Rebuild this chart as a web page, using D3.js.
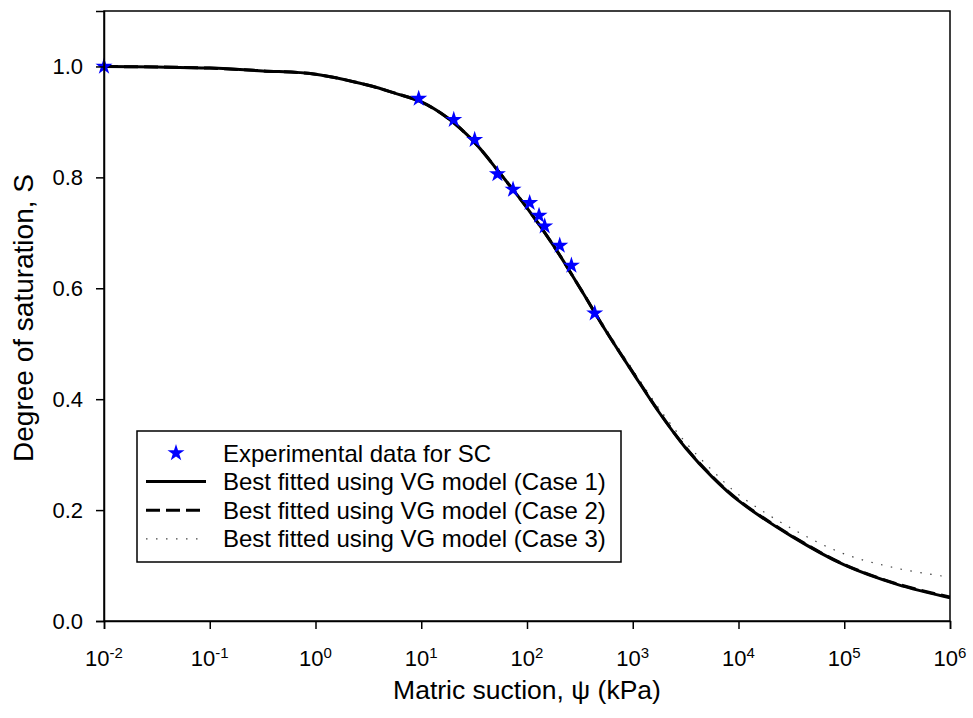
<!DOCTYPE html>
<html>
<head>
<meta charset="utf-8">
<script src="https://cdn.jsdelivr.net/npm/d3@7"></script>
<style>
	body { margin: 0; background: #fff; }
	text { font-family: Arial, "Liberation Sans", sans-serif; fill: #000; }
</style>
</head>
<body>
<div id="chart"></div>
<script>
////////////////////////////////////////////////////////////
//////////////////////// Data //////////////////////////////
////////////////////////////////////////////////////////////

// experimental points (suction in kPa, degree of saturation)
var expSuction = [0.01, 9.46, 20.3, 32.0, 52.5, 73.8, 106, 130, 147, 204, 263, 437];
var expS       = [1.0, 0.942, 0.904, 0.868, 0.806, 0.778, 0.754, 0.731, 0.712, 0.677, 0.641, 0.555];

var fitSuction = [0.01, 0.0316, 0.1, 0.316, 1, 3.16, 5.62, 10, 17.8, 31.6, 56.2, 100, 178, 316, 562,
	1000, 1778, 3162, 5623, 10000, 31623, 100000, 316228, 1000000];
var case1S = [1.0, 0.999, 0.997, 0.992, 0.986, 0.966, 0.952, 0.936, 0.907, 0.864, 0.806, 0.745, 0.677, 0.601, 0.522,
	0.448, 0.376, 0.312, 0.260, 0.217, 0.153, 0.101, 0.066, 0.042];
var case2S = [1.0, 0.999, 0.997, 0.992, 0.986, 0.966, 0.952, 0.936, 0.907, 0.864, 0.806, 0.745, 0.677, 0.601, 0.522,
	0.449, 0.377, 0.313, 0.261, 0.218, 0.154, 0.102, 0.067, 0.043];
var case3S = [1.0, 0.999, 0.997, 0.992, 0.986, 0.966, 0.952, 0.936, 0.907, 0.864, 0.806, 0.745, 0.678, 0.603, 0.526,
	0.453, 0.383, 0.322, 0.272, 0.228, 0.167, 0.121, 0.095, 0.079];

var xTickPowers = [-2, -1, 0, 1, 2, 3, 4, 5, 6];
var yTicks = [0, 0.2, 0.4, 0.6, 0.8, 1.0];

var legendLabels = ["Experimental data for SC", "Best fitted using VG model (Case 1)",
	"Best fitted using VG model (Case 2)", "Best fitted using VG model (Case 3)"];

////////////////////////////////////////////////////////////
//////////////////////// Setup /////////////////////////////
////////////////////////////////////////////////////////////
var margin = {left: 104, top: 11, right: 23, bottom: 97},
	width = 973 - margin.left - margin.right,
	height = 718 - margin.top - margin.bottom;

var x = d3.scaleLog().domain([0.01, 1e6]).range([0, width]);
var y = d3.scaleLinear().domain([0, 1.1]).range([height, 0]);

var svg = d3.select("#chart").append("svg")
	.attr("width", 973)
	.attr("height", 718);

var g = svg.append("g")
	.attr("transform", "translate(" + margin.left + "," + margin.top + ")");

g.append("clipPath").attr("id", "clip")
	.append("rect").attr("width", width).attr("height", height);

////////////////////////////////////////////////////////////
//////////////////////// Curves ////////////////////////////
////////////////////////////////////////////////////////////
var line = d3.line()
	.x(function(d) { return x(d[0]); })
	.y(function(d) { return y(d[1]); })
	.curve(d3.curveCatmullRom.alpha(0.5));

var curves = [
	{vals: case3S, stroke: "#444", width: 1.2, dash: "1.5,8.5"},
	{vals: case2S, stroke: "#000", width: 3, dash: "14,6"},
	{vals: case1S, stroke: "#000", width: 3, dash: null}
];

curves.forEach(function(c) {
	g.append("path")
		.datum(fitSuction.map(function(s, i) { return [s, c.vals[i]]; }))
		.attr("clip-path", "url(#clip)")
		.attr("fill", "none")
		.attr("stroke", c.stroke)
		.attr("stroke-width", c.width)
		.attr("stroke-dasharray", c.dash)
		.attr("d", line);
});

var star = d3.symbol().type(d3.symbolStar).size(90);

g.selectAll(".expPoint")
	.data(expSuction.map(function(s, i) { return [s, expS[i]]; }))
	.enter().append("path")
	.attr("class", "expPoint")
	.attr("transform", function(d) { return "translate(" + x(d[0]) + "," + y(d[1]) + ")"; })
	.attr("fill", "#0000ff")
	.attr("d", star);

////////////////////////////////////////////////////////////
//////////////////////// Axes //////////////////////////////
////////////////////////////////////////////////////////////
// frame
g.append("rect")
	.attr("width", width).attr("height", height)
	.attr("fill", "none").attr("stroke", "#000").attr("stroke-width", 1.5);

var yAxis = g.append("g")
	.call(d3.axisLeft(y).tickValues(yTicks).tickSize(8).tickPadding(13).tickFormat(d3.format(".1f")));

var xAxis = g.append("g")
	.attr("transform", "translate(0," + height + ")")
	.call(d3.axisBottom(x).tickValues(xTickPowers.map(function(p) { return Math.pow(10, p); }))
		.tickSize(8).tickFormat(""));

[yAxis, xAxis].forEach(function(a) {
	a.select(".domain").attr("stroke-width", 1.5);
	a.selectAll(".tick line").attr("stroke-width", 1.5);
});
yAxis.selectAll(".tick text").style("font-size", "22px").attr("fill", "#000");

var xLab = xAxis.selectAll(".xlab")
	.data(xTickPowers)
	.enter().append("text")
	.attr("class", "xlab")
	.attr("x", function(p) { return x(Math.pow(10, p)); })
	.attr("y", 45)
	.attr("text-anchor", "middle")
	.style("font-size", "22px");
xLab.append("tspan").text("10");
xLab.append("tspan")
	.attr("dy", "-0.55em")
	.style("font-size", "15px")
	.text(function(p) { return p; });

// titles
svg.append("text")
	.attr("x", margin.left + width / 2)
	.attr("y", 699)
	.attr("text-anchor", "middle")
	.style("font-size", "26.5px")
	.text("Matric suction, \u03c8 (kPa)");

svg.append("text")
	.attr("transform", "translate(33," + (margin.top + height / 2 + 2) + ") rotate(-90)")
	.attr("text-anchor", "middle")
	.style("font-size", "28px")
	.text("Degree of saturation, S");

////////////////////////////////////////////////////////////
//////////////////////// Legend ////////////////////////////
////////////////////////////////////////////////////////////
var legend = svg.append("g").attr("transform", "translate(137,431)");

legend.append("rect")
	.attr("width", 484).attr("height", 131)
	.attr("fill", "#fff").attr("stroke", "#000").attr("stroke-width", 1.5);

var rowY = function(i) { return 22 + i * 28.6; };

legend.append("path")
	.attr("transform", "translate(39," + rowY(0) + ")")
	.attr("fill", "#0000ff")
	.attr("d", star);

curves.slice().reverse().forEach(function(c, i) {
	legend.append("line")
		.attr("x1", 9).attr("x2", 69)
		.attr("y1", rowY(i + 1)).attr("y2", rowY(i + 1))
		.attr("stroke", c.stroke)
		.attr("stroke-width", c.width)
		.attr("stroke-dasharray", c.dash);
});

legend.selectAll(".legText")
	.data(legendLabels)
	.enter().append("text")
	.attr("class", "legText")
	.attr("x", 86)
	.attr("y", function(d, i) { return rowY(i); })
	.attr("dy", "0.36em")
	.style("font-size", "24px")
	.text(function(d) { return d; });
</script>
</body>
</html>
